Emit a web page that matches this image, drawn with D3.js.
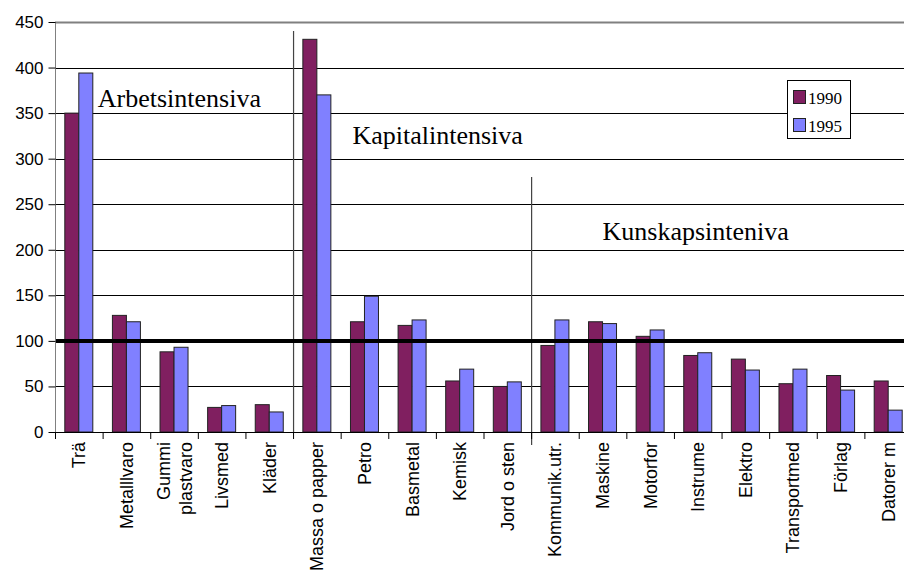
<!DOCTYPE html>
<html><head><meta charset="utf-8">
<script src="https://cdn.jsdelivr.net/npm/d3@7/dist/d3.min.js"></script>
<style>body{margin:0;background:#fff}svg{display:block}</style>
</head><body>
<svg id="c" width="904" height="572"></svg>
<script>
const categories = [["Trä"],["Metalllvaro"],["Gummi","plastvaro"],["Livsmed"],["Kläder"],["Massa o papper"],["Petro"],["Basmetal"],["Kemisk"],["Jord o sten"],["Kommunik.utr."],["Maskine"],["Motorfor"],["Instrume"],["Elektro"],["Transportmed"],["Förlag"],["Datorer m"]];
const series1990 = [350,128,88,27,30,431,121,117,56,50,95,121,105,84,80,53,62,56];
const series1995 = [394,121,93,29,22,370,149,123,69,55,123,119,112,87,68,69,46,24];
const seriesNames = ["1990","1995"];
const yTicks = [0,50,100,150,200,250,300,350,400,450];
const groupLabels = [
  {text:"Arbetsintensiva", cat:0, val:357},
  {text:"Kapitalintensiva", cat:6, val:316},
  {text:"Kunskapsinteniva", cat:11, val:211}
];
const dividers = [{at:5, top:440}, {at:10, top:280}];

const svg = d3.select("#c");
const pL=55, pR=912, pT=22, pB=432;
const x = d3.scaleBand().domain(d3.range(categories.length)).range([pL,pR]);
const y = d3.scaleLinear().domain([0,450]).range([pB,pT]);
const colors = ["#801f60","#8080ff"];
const bw = 14;

// gridlines
svg.append("g").selectAll("line").data(yTicks.filter(d=>d>0)).join("line")
  .attr("x1",pL).attr("x2",pR).attr("y1",d=>Math.round(y(d))+0.5).attr("y2",d=>Math.round(y(d))+0.5)
  .attr("stroke",d=>d===450?"#808080":"#000").attr("stroke-width",d=>d===450?2:1);

// dividers
svg.append("g").selectAll("line").data(dividers).join("line")
  .attr("x1",d=>x(d.at)+0.5).attr("x2",d=>x(d.at)+0.5)
  .attr("y1",d=>y(d.top)).attr("y2",(d,i)=>i===1?pB+13:pB)
  .attr("stroke","#444").attr("stroke-width",1.2);

// bars
const bars = svg.append("g");
[series1990, series1995].forEach((s,si)=>{
  bars.selectAll(null).data(s).join("rect")
    .attr("x",(d,i)=>x(i)+x.bandwidth()/2 - bw + si*bw)
    .attr("y",d=>y(d)).attr("width",bw).attr("height",d=>pB-y(d))
    .attr("fill",colors[si]).attr("stroke","#222").attr("stroke-width",1);
});

// 100 reference line
svg.append("line").attr("x1",pL).attr("x2",pR).attr("y1",y(100)).attr("y2",y(100))
  .attr("stroke","#000").attr("stroke-width",4);

// y axis
const ya = svg.append("g").attr("transform",`translate(${pL+0.5},0)`)
  .call(d3.axisLeft(y).tickValues(yTicks).tickSize(7).tickPadding(5));
ya.select(".domain").attr("stroke","#808080").attr("d",`M0,${pT}V${pB}`);
ya.selectAll("text").attr("font-family","'Liberation Sans',Arial,sans-serif").attr("font-size",17).attr("fill","#000");
ya.selectAll(".tick line").attr("stroke","#000");

// x axis
svg.append("line").attr("x1",pL).attr("x2",pR).attr("y1",pB+0.5).attr("y2",pB+0.5).attr("stroke","#000");
svg.append("g").selectAll("line").data(d3.range(categories.length+1)).join("line")
  .attr("x1",i=>(i<categories.length?x(i):pR)+0.5).attr("x2",i=>(i<categories.length?x(i):pR)+0.5)
  .attr("y1",pB).attr("y2",pB+7).attr("stroke","#000");

const xl = svg.append("g");
categories.forEach((lines,i)=>{
  const cx = x(i)+x.bandwidth()/2;
  const t = xl.append("text")
    .attr("transform",`translate(${cx},${pB+10}) rotate(-90)`)
    .attr("text-anchor","end")
    .attr("font-family","'Liberation Sans',Arial,sans-serif").attr("font-size",18).attr("fill","#000");
  const n = lines.length;
  lines.forEach((ln,j)=>{
    t.append("tspan").attr("x",0).attr("y",(j-(n-1)/2)*22 + 6.5).text(ln);
  });
});

// group labels
svg.append("g").selectAll("text").data(groupLabels).join("text")
  .attr("x",d=>x(d.cat)+x.bandwidth()/2 + (d.cat===0?19:(d.cat===6?-12:0)))
  .attr("y",d=>y(d.val))
  .attr("font-family","'Liberation Serif','Times New Roman',serif").attr("font-size",26).attr("fill","#000")
  .text(d=>d.text);

// legend
const lg = svg.append("g").attr("transform","translate(787,80)");
lg.append("rect").attr("x",0.5).attr("y",0.5).attr("width",63).attr("height",58).attr("fill","#fff").attr("stroke","#000");
seriesNames.forEach((n,i)=>{
  lg.append("rect").attr("x",6.5).attr("y",10.5+i*28).attr("width",12).attr("height",13).attr("fill",colors[i]).attr("stroke","#222");
  lg.append("text").attr("x",21).attr("y",24+i*28).attr("font-family","'Liberation Serif','Times New Roman',serif")
    .attr("font-size",17).attr("fill","#000").text(n);
});
</script>
</body></html>
